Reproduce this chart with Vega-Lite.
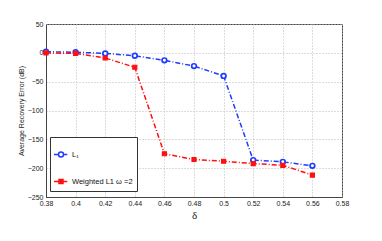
{
  "$schema": "https://vega.github.io/schema/vega-lite/v6.json",
  "width": 296,
  "height": 173,
  "autosize": {"type": "none"},
  "padding": {"left": 46, "top": 24, "right": 40, "bottom": 44},
  "background": "white",
  "config": {
    "font": "Liberation Sans",
    "view": {"stroke": "#444", "strokeWidth": 1}
  },
  "data": {
    "values": [
      {"delta": 0.38, "err": 2, "series": "L₁"},
      {"delta": 0.40, "err": 1, "series": "L₁"},
      {"delta": 0.42, "err": -1, "series": "L₁"},
      {"delta": 0.44, "err": -5, "series": "L₁"},
      {"delta": 0.46, "err": -13, "series": "L₁"},
      {"delta": 0.48, "err": -23, "series": "L₁"},
      {"delta": 0.50, "err": -40, "series": "L₁"},
      {"delta": 0.52, "err": -186, "series": "L₁"},
      {"delta": 0.54, "err": -189, "series": "L₁"},
      {"delta": 0.56, "err": -196, "series": "L₁"},
      {"delta": 0.38, "err": 0, "series": "Weighted L1 ω =2"},
      {"delta": 0.40, "err": -1, "series": "Weighted L1 ω =2"},
      {"delta": 0.42, "err": -9, "series": "Weighted L1 ω =2"},
      {"delta": 0.44, "err": -25, "series": "Weighted L1 ω =2"},
      {"delta": 0.46, "err": -175, "series": "Weighted L1 ω =2"},
      {"delta": 0.48, "err": -185, "series": "Weighted L1 ω =2"},
      {"delta": 0.50, "err": -188, "series": "Weighted L1 ω =2"},
      {"delta": 0.52, "err": -192, "series": "Weighted L1 ω =2"},
      {"delta": 0.54, "err": -195, "series": "Weighted L1 ω =2"},
      {"delta": 0.56, "err": -212, "series": "Weighted L1 ω =2"}
    ]
  },
  "encoding": {
    "x": {
      "field": "delta", "type": "quantitative",
      "scale": {"domain": [0.38, 0.58], "nice": false, "zero": false},
      "axis": {
        "title": "δ", "titleFont": "Liberation Serif", "titleFontSize": 11, "titleFontWeight": "normal", "titleColor": "#222", "titlePadding": 3,
        "values": [0.38, 0.4, 0.42, 0.44, 0.46, 0.48, 0.5, 0.52, 0.54, 0.56, 0.58],
        "format": ".2~f", "labelFontSize": 7, "labelColor": "#222", "labelPadding": 2,
        "grid": true, "gridDash": [1, 2], "gridColor": "#bbb",
        "domainColor": "#444", "ticks": false, "labelFlush": false
      }
    },
    "y": {
      "field": "err", "type": "quantitative",
      "scale": {"domain": [-250, 50], "nice": false, "zero": false},
      "axis": {
        "title": "Average Recovery Error (dB)", "titleFontSize": 7, "titleFontWeight": "normal", "titleColor": "#222", "titlePadding": 3,
        "values": [-250, -200, -150, -100, -50, 0, 50],
        "labelFontSize": 7, "labelColor": "#222", "labelPadding": 3,
        "grid": true, "gridDash": [1, 2], "gridColor": "#bbb",
        "domainColor": "#444", "ticks": false
      }
    }
  },
  "layer": [
    {
      "mark": {"type": "line", "strokeWidth": 1.5, "strokeDash": [5, 2, 1, 2]},
      "encoding": {
        "stroke": {"field": "series", "type": "nominal",
          "scale": {"domain": ["L₁", "Weighted L1 ω =2"], "range": ["#1f3cff", "#ff1010"]}}
      }
    },
    {
      "transform": [{"filter": "datum.series === 'L₁'"}],
      "mark": {"type": "point", "shape": "circle", "size": 22, "strokeWidth": 1.7, "opacity": 1, "fill": "white", "filled": false},
      "encoding": {
        "stroke": {"field": "series", "type": "nominal"}
      }
    },
    {
      "transform": [{"filter": "datum.series !== 'L₁'"}],
      "mark": {"type": "point", "shape": "square", "size": 16, "strokeWidth": 1.2, "opacity": 1, "fill": "#ff1010", "filled": false},
      "encoding": {
        "stroke": {"field": "series", "type": "nominal"}
      }
    },
    {
      "mark": {"type": "point", "size": 0, "strokeWidth": 1.5, "opacity": 1},
      "encoding": {
        "stroke": {"field": "series", "type": "nominal",
          "legend": {
            "title": null, "orient": "none", "legendX": 4, "legendY": 113,
            "strokeColor": "#333", "fillColor": "white", "padding": 4,
            "rowPadding": 8, "labelFontSize": 7.5, "labelColor": "#111", "symbolSize": 625,
            "symbolStrokeWidth": 1.5, "labelOffset": -9
          }
        },
        "fill": {"field": "series", "type": "nominal",
          "scale": {"domain": ["L₁", "Weighted L1 ω =2"], "range": ["white", "#ff1010"]}},
        "shape": {"field": "series", "type": "nominal",
          "scale": {"domain": ["L₁", "Weighted L1 ω =2"], "range": [
            "M-1.08,0H-0.72M-0.32,0H-0.02M-0.32,0A0.2,0.2 0 1,1 -0.72,0A0.2,0.2 0 1,1 -0.32,0Z",
            "M-1.08,0H-0.68M-0.36,0H-0.02M-0.68,-0.16H-0.36V0.16H-0.68Z"
          ]}}
      }
    }
  ]
}
